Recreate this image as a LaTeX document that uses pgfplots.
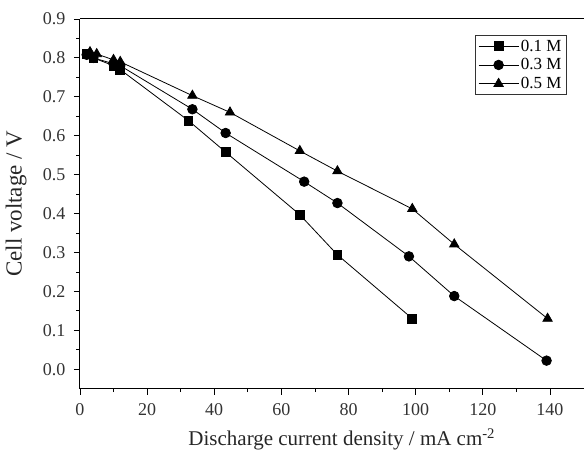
\documentclass[border=0pt]{standalone}
\usepackage{fontspec}
\setmainfont{Liberation Serif}
\usepackage{pgfplots}
\pgfplotsset{compat=1.18}
\begin{document}
\begin{tikzpicture}
\begin{axis}[
  scale only axis,
  width=504pt, height=370pt,
  xmin=0, xmax=150, ymin=-0.05, ymax=0.9,
  xtick={0,20,...,140}, ytick={0,0.1,...,0.9},
  minor x tick num=1, minor y tick num=1,
  axis y line*=left,
  tick align=outside, tick pos=left,
  major tick length=6pt, minor tick length=3.5pt,
  /pgf/number format/assume math mode=true,
  yticklabel style={/pgf/number format/fixed, /pgf/number format/fixed zerofill,
    /pgf/number format/precision=1, xshift=-5pt},
  xticklabel style={yshift=-5pt},
  ticklabel style={font=\fontsize{18}{21}\selectfont, text=black!80},
  xlabel={Discharge current density / mA cm\textsuperscript{-2}},
  ylabel={Cell voltage / V},
  xlabel style={font=\fontsize{21}{24}\selectfont, text=black!85,
    at={(axis description cs:0.52,-0.154)}, anchor=base},
  ylabel style={font=\fontsize{23}{26}\selectfont, text=black!85,
    at={(axis description cs:-0.099,0.5)}, anchor=south},
  axis line style={line width=1pt},
  every tick/.style={line width=0.8pt,black},
  legend style={at={(0.966,0.957)},anchor=north east,
    font=\fontsize{17}{19}\selectfont, draw=black!80, line width=0.8pt,
    row sep=2pt, inner sep=2.5pt},
  legend cell align=left,
  legend image code/.code={\draw[mark repeat=2,mark phase=2]
    plot coordinates {(0cm,0cm) (0.7cm,0cm) (1.4cm,0cm)};},
  every axis plot/.append style={line width=0.8pt, black, mark options={solid}},
]
\addplot[mark=square*, mark size=4.4pt] coordinates {
  (2,0.81)(4,0.80)(10,0.78)(12,0.77)(32.3,0.639)(43.4,0.558)(65.5,0.397)(76.7,0.294)(99,0.13)};
\addplot[mark=*, mark size=4.8pt] coordinates {
  (2,0.808)(4,0.80)(10,0.785)(12,0.78)(33.5,0.668)(43.4,0.607)(66.8,0.482)(76.7,0.427)(98,0.29)(111.5,0.188)(139,0.022)};
\addplot[mark=triangle*, mark size=5.4pt] coordinates {
  (3,0.815)(5,0.81)(10,0.795)(12,0.79)(33.5,0.703)(44.7,0.66)(65.5,0.561)(76.7,0.509)(99,0.412)(111.5,0.321)(139.3,0.13)};
\legend{0.1 M,0.3 M,0.5 M}
\coordinate (sw) at (rel axis cs:0,0);
\coordinate (ne) at (rel axis cs:1,1);
\end{axis}
\pgfresetboundingbox
\path ([shift={(-80pt,-62pt)}]sw) rectangle ([shift={(0.5pt,19pt)}]ne);
\end{tikzpicture}
\end{document}
